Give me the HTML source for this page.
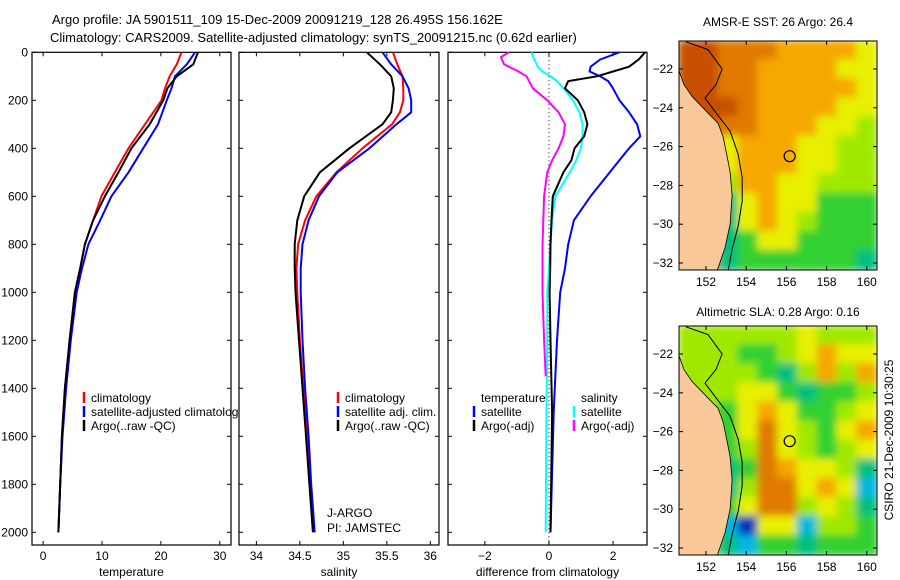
<!DOCTYPE html>
<html><head><meta charset="utf-8"><style>
html,body{margin:0;padding:0;background:#fff;}
svg{display:block;font-family:"Liberation Sans",sans-serif;}
text{font-size:12px;fill:#000;}
</style></head><body>
<svg id="fig" width="900" height="580" viewBox="0 0 900 580" xmlns="http://www.w3.org/2000/svg">
<text x="52" y="24" style="font-size:13px">Argo profile: JA 5901511_109 15-Dec-2009 20091219_128 26.495S 156.162E</text>
<text x="50" y="42" style="font-size:13px">Climatology: CARS2009. Satellite-adjusted climatology: synTS_20091215.nc (0.62d earlier)</text>
<g id="plots"></g>
<text x="778" y="26" text-anchor="middle">AMSR-E SST: 26 Argo: 26.4</text>
<text x="778" y="316" text-anchor="middle">Altimetric SLA: 0.28 Argo: 0.16</text>
<text transform="translate(893,440) rotate(-90)" text-anchor="middle">CSIRO 21-Dec-2009 10:30:25</text>
</svg>
<script>
// ---------- profile data ----------
const tDepth=[0,50,100,150,200,300,400,500,600,700,800,900,1000,1200,1400,1600,1800,2000];
const tClim=[23.5,22.7,21.5,20.7,20.1,17.3,14.5,12.2,9.9,8.5,7.1,6.3,5.4,4.5,3.7,3.2,2.9,2.6];
const tSat=[25.8,24.4,22.4,21.8,21.0,19.5,17.0,14.5,11.6,9.7,7.7,6.6,5.7,4.7,3.9,3.3,2.9,2.6];
const tArgo=[26.3,25.5,22.7,21.1,20.4,18.1,15.0,12.8,10.5,8.5,7.1,6.3,5.4,4.5,3.7,3.2,2.9,2.6];
const sDepth=[0,50,100,150,200,250,300,400,500,600,700,800,900,1000,1200,1400,1600,1800,2000];
const sClim=[35.57,35.62,35.68,35.69,35.69,35.65,35.56,35.22,34.92,34.69,34.56,34.48,34.46,34.47,34.5,34.54,34.58,34.62,34.66];
const sSat=[35.45,35.55,35.68,35.75,35.78,35.78,35.61,35.30,34.93,34.72,34.60,34.53,34.51,34.51,34.53,34.56,34.6,34.63,34.67];
const sArgo=[35.27,35.42,35.55,35.58,35.57,35.55,35.45,35.07,34.73,34.55,34.47,34.44,34.44,34.45,34.49,34.53,34.57,34.61,34.65];
const dDepth=[0,30,60,80,100,120,150,200,250,300,350,400,450,500,600,700,800,900,1000,1200,1500,2000];
const dTSat=[2.2,1.6,1.3,1.27,1.6,1.85,2.0,2.2,2.5,2.75,2.85,2.5,2.2,1.9,1.3,0.78,0.6,0.5,0.35,0.25,0.15,0.05];
const dTArgo=[3.0,2.8,2.5,2.0,1.5,0.6,0.5,0.9,1.1,1.2,1.1,0.8,0.7,0.45,0.12,0.08,0.05,0.04,0.02,0.05,0.1,0.05];
const dSSat=[-0.55,-0.45,-0.35,-0.2,0.05,0.25,0.45,0.75,0.95,1.05,1.05,1.0,0.85,0.65,0.2,0.1,0.05,0.0,-0.05,-0.05,-0.08,-0.1];
const dSArgoDepth=[0,20,50,80,100,150,200,250,300,350,400,450,500,600,800,1000,1200,1350];
const dSArgo=[-1.25,-1.5,-1.4,-0.95,-0.7,-0.5,-0.05,0.3,0.5,0.45,0.3,0.1,-0.05,-0.15,-0.2,-0.2,-0.15,-0.1];
const depthTicks=[0,200,400,600,800,1000,1200,1400,1600,1800,2000];
const tTicks=[0,10,20,30];
const sTicks=[34,34.5,35,35.5,36];
const dTicks=[-2,0,2];

const NS="http://www.w3.org/2000/svg";
const root=document.getElementById('plots');
function mk(tag,attrs,parent){const e=document.createElementNS(NS,tag);for(const k in attrs)e.setAttribute(k,attrs[k]);(parent||root).appendChild(e);return e;}
const yTop=52.3, yPer=0.24, yBot=545;
const yD=d=>yTop+d*yPer;

const panels=[
 {name:'temperature',x0:32,x1:231,v0:-1.88,v1:31.9,ticks:tTicks,label:'temperature'},
 {name:'salinity',x0:239,x1:439,v0:33.8,v1:36.1,ticks:sTicks,label:'salinity'},
 {name:'difference',x0:448,x1:647,v0:-3.15,v1:3.06,ticks:dTicks,label:'difference from climatology'}
];
function xf(p){return v=>p.x0+(v-p.v0)/(p.v1-p.v0)*(p.x1-p.x0);}

panels.forEach((p,i)=>{
  const g=mk('g',{});
  
  
  const r=mk('rect',{x:p.x0,y:yTop,width:p.x1-p.x0,height:yBot-yTop,fill:'#fff',stroke:'#000','stroke-width':1.2},g);
  
  
  const X=xf(p);
  p.ticks.forEach(t=>{
    const x=X(t);
    mk('line',{x1:x,x2:x,y1:yTop,y2:yTop+4,stroke:'#000'},g);
    mk('line',{x1:x,x2:x,y1:yBot,y2:yBot-4,stroke:'#000'},g);
    const tx=mk('text',{x:x,y:560,'text-anchor':'middle'},g);
    tx.textContent=(t<0?'\u2212'+(-t):String(t));
    
    
  });
  depthTicks.forEach(d=>{
    const y=yD(d);
    mk('line',{x1:p.x0,x2:p.x0+4,y1:y,y2:y,stroke:'#000'},g);
    mk('line',{x1:p.x1,x2:p.x1-4,y1:y,y2:y,stroke:'#000'},g);
    if(i===0){const tx=mk('text',{x:28,y:y+4,'text-anchor':'end'},g);tx.textContent=String(d);
      
      }
  });
  const lab=mk('text',{x:(p.x0+p.x1)/2,y:576,'text-anchor':'middle'},g);
  lab.textContent=p.label;
  
  
  p.g=g;p.X=X;
});

function series(p,depths,vals,color,w,name){
  const pts=depths.map((d,k)=>p.X(vals[k]).toFixed(1)+','+yD(d).toFixed(1)).join(' ');
  const l=mk('polyline',{points:pts,fill:'none',stroke:color,'stroke-width':w,'stroke-linejoin':'round'},p.g);
  
  
}
const [P1,P2,P3]=panels;
series(P1,tDepth,tClim,'#f00',2,'temp-climatology-line');
series(P1,tDepth,tSat,'#00f',2,'temp-satellite-line');
series(P1,tDepth,tArgo,'#000',2,'temp-argo-line');
series(P2,sDepth,sClim,'#f00',2,'sal-climatology-line');
series(P2,sDepth,sSat,'#00f',2,'sal-satellite-line');
series(P2,sDepth,sArgo,'#000',2,'sal-argo-line');
const z=P3.X(0);
const zl=mk('line',{x1:z,x2:z,y1:yTop,y2:yBot,stroke:'#000','stroke-dasharray':'1,3'},P3.g);


series(P3,dDepth,dTSat,'#00f',2,'diff-temp-satellite-line');
series(P3,dDepth,dSSat,'#0ff',2,'diff-sal-satellite-line');
series(P3,dSArgoDepth,dSArgo,'#f0f',2,'diff-sal-argo-line');
series(P3,dDepth,dTArgo,'#000',2,'diff-temp-argo-line');

function legend(g,x,y,color,text,name){
  if(color){const b=mk('line',{x1:x,x2:x,y1:y-10,y2:y+1,stroke:color,'stroke-width':2.5},g);
    }
  const t=mk('text',{x:x+7,y:y},g);t.textContent=text;
  
  
}
legend(P1.g,84,402,'#f00','climatology','legend-climatology');
legend(P1.g,84,416,'#00f','satellite-adjusted climatology','legend-satellite');
legend(P1.g,84,430,'#000','Argo(..raw -QC)','legend-argo');
legend(P2.g,338,402,'#f00','climatology','legend2-climatology');
legend(P2.g,338,416,'#00f','satellite adj. clim.','legend2-satellite');
legend(P2.g,338,430,'#000','Argo(..raw -QC)','legend2-argo');
legend(P3.g,474,402,null,'temperature','legend3-temperature-header');
legend(P3.g,474,416,'#00f','satellite','legend3-temp-satellite');
legend(P3.g,474,430,'#000','Argo(-adj)','legend3-temp-argo');
legend(P3.g,574,402,null,'salinity','legend3-salinity-header');
legend(P3.g,574,416,'#0ff','satellite','legend3-sal-satellite');
legend(P3.g,574,430,'#f0f','Argo(-adj)','legend3-sal-argo');
legend(P2.g,320,517,null,'J-ARGO','pi-org');
legend(P2.g,320,532,null,'PI: JAMSTEC','pi-name');

// ---------- maps ----------
const sstGrid=[
[9,9,8,8,8,7,7,7,7,6],[9,9,8,8,7,7,7,7,6,6],[9,9,8,8,7,7,7,7,7,6],[9,9,9,8,7,7,7,7,6,6],
[9,9,8,8,7,7,7,6,6,5],[9,9,6,7,7,7,6,6,5,5],[9,9,6,7,7,7,6,6,5,5],[9,9,5,7,7,6,6,5,5,5],
[9,9,3,6,7,6,6,4,4,4],[9,9,3,6,7,6,5,4,4,4],[9,9,3,4,6,6,4,4,4,4],[9,9,3,4,4,4,4,4,4,3]];
const slaGrid=[
[5,5,5,5,5,5,6,5,5,5],[5,5,5,4,4,5,6,7,6,6],[5,5,5,5,4,3,5,7,5,7],[5,5,5,6,6,4,3,4,4,5],
[5,5,4,6,7,6,4,4,5,6],[5,5,4,6,8,6,5,4,6,7],[5,5,4,5,8,6,5,4,5,6],[5,5,3,4,8,7,6,6,5,3],
[5,5,3,5,8,8,6,7,6,2],[5,5,4,6,8,8,5,6,5,3],[5,5,2,1,6,6,2,5,5,4],[5,5,3,2,4,4,3,4,4,4]];
const cmap=['#000080','#0030c0','#00b8e0','#00c080','#30d030','#a0e800','#e8f000','#f5a800','#e07a00','#c85000'];
const lonTicks=[152,154,156,158,160];
const latTicks=[-22,-24,-26,-28,-30,-32];
const argoLon=156.162, argoLat=-26.495;
const coastLon=[150.66,150.9,151.3,151.85,152.6,152.85,153.05,153.2,153.3,153.2,152.95,152.55,150.66];
const coastLat=[-22.1,-22.8,-23.4,-24.0,-24.8,-25.5,-26.5,-27.3,-28.5,-30.0,-31.2,-32.4,-32.4];
const shelfLon=[151.0,152.1,152.8,152.5,151.95,152.6,153.2,153.6,153.8,153.8,153.6,153.3,153.1];
const shelfLat=[-20.6,-21.0,-22.0,-22.8,-23.5,-24.4,-25.2,-26.4,-27.6,-28.8,-30.1,-31.3,-32.4];

function drawMap(grid,top,name){
  const g=mk('g',{});
  
  
  const x0=679,x1=877,y0=top,y1=top+229;
  const lonX=l=>706+(l-152)*20.1;
  const latY=l=>top+28+(-22-l)*19.4;
  const cw=(x1-x0)/grid[0].length, ch=(y1-y0)/grid.length;
  const defs=mk('defs',{},g);
  const f=mk('filter',{id:name+'-blur',x:'-5%',y:'-5%',width:'110%',height:'110%'},defs);
  mk('feGaussianBlur',{stdDeviation:4},f);
  const cp=mk('clipPath',{id:name+'-clip'},defs);
  mk('rect',{x:x0,y:y0,width:x1-x0,height:y1-y0},cp);
  const cg=mk('g',{'clip-path':'url(#'+name+'-clip)'},g);
  const hg=mk('g',{filter:'url(#'+name+'-blur)'},cg);
  grid.forEach((row,r)=>row.forEach((v,c)=>{
    const cell=mk('rect',{x:x0+c*cw-1,y:y0+r*ch-1,width:cw+2,height:ch+2,fill:cmap[v]},hg);
    
    
  }));
  const land=mk('polygon',{points:coastLon.map((l,k)=>lonX(l).toFixed(1)+','+latY(coastLat[k]).toFixed(1)).join(' '),fill:'#f8c898',stroke:'#000','stroke-width':0.8},cg);
  
  
  const shelf=mk('polyline',{points:shelfLon.map((l,k)=>lonX(l).toFixed(1)+','+latY(shelfLat[k]).toFixed(1)).join(' '),fill:'none',stroke:'#000','stroke-width':1},cg);
  
  
  const c=mk('circle',{cx:lonX(argoLon),cy:latY(argoLat),r:5.5,fill:'none',stroke:'#000','stroke-width':1.2},g);
  
  
  mk('rect',{x:x0,y:y0,width:x1-x0,height:y1-y0,fill:'none',stroke:'#000','stroke-width':1},g);
  lonTicks.forEach(l=>{const x=lonX(l);
    mk('line',{x1:x,x2:x,y1:y0,y2:y0+4,stroke:'#000'},g);
    mk('line',{x1:x,x2:x,y1:y1,y2:y1-4,stroke:'#000'},g);
    const t=mk('text',{x:x,y:y1+16,'text-anchor':'middle'},g);t.textContent=String(l);
    });
  latTicks.forEach(l=>{const y=latY(l);
    mk('line',{x1:x0,x2:x0+4,y1:y,y2:y,stroke:'#000'},g);
    mk('line',{x1:x1,x2:x1-4,y1:y,y2:y,stroke:'#000'},g);
    const t=mk('text',{x:673,y:y+4,'text-anchor':'end'},g);t.textContent='\u2212'+(-l);
    });
}
drawMap(sstGrid,41,'sst-map');
drawMap(slaGrid,326,'sla-map');
</script>
</body></html>
